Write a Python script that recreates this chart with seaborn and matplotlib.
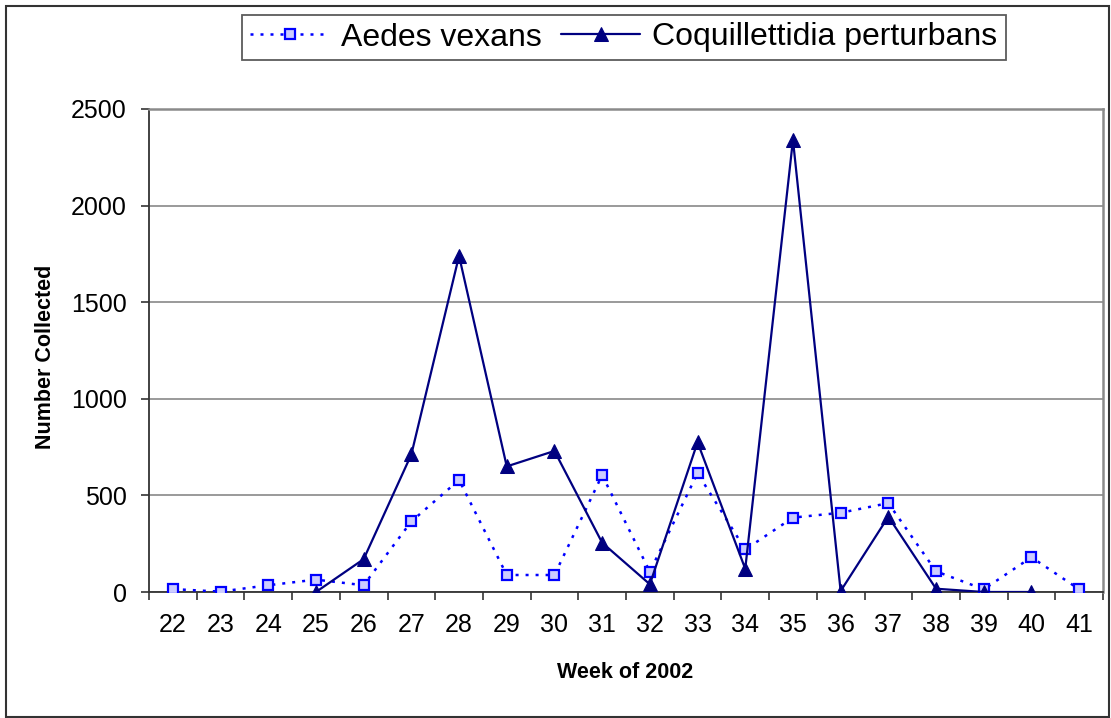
import numpy as np
import pandas as pd
import matplotlib
matplotlib.use("Agg")
import matplotlib.pyplot as plt
import seaborn as sns
from matplotlib.patches import Rectangle

# semanas y conteos
weeks = [22, 23, 24, 25, 26, 27, 28, 29, 30, 31, 32, 33, 34, 35, 36, 37, 38, 39, 40, 41]
aedes = [15, 2, 35, 64, 35, 365, 580, 88, 88, 605, 105, 615, 220, 385, 410, 460, 107, 14, 180, 14]
coq_weeks = [25, 26, 27, 28, 29, 30, 31, 32, 33, 34, 35, 36, 37, 38, 39, 40]
coq = [0, 170, 712, 1740, 650, 730, 255, 40, 775, 120, 2340, 5, 390, 17, 0, 0]

sns.set_style("white")
plt.rcParams['font.family'] = ['Liberation Sans', 'DejaVu Sans']
plt.rcParams['text.color'] = 'black'
plt.rcParams['xtick.color'] = 'black'
plt.rcParams['ytick.color'] = 'black'

df_a = pd.DataFrame({'pos': [weeks.index(w) for w in weeks], 'n': aedes})
df_c = pd.DataFrame({'pos': [weeks.index(w) for w in coq_weeks], 'n': coq})

fig = plt.figure(figsize=(11.11, 7.18), dpi=100)
ax = fig.add_axes([149 / 1111, 1 - 592 / 718, (1103 - 149) / 1111, (592 - 109) / 718])

sns.lineplot(data=df_a, x='pos', y='n', ax=ax, color='#0000FF', linestyle=(0, (1.2, 2.8)),
             linewidth=1.8, marker='s', markersize=7.5, markerfacecolor='#CCCCFF',
             markeredgecolor='#0000FF', markeredgewidth=1.6, label='Aedes vexans', zorder=3)
sns.lineplot(data=df_c, x='pos', y='n', ax=ax, color='#000080', linestyle='-',
             linewidth=1.6, marker='^', markersize=10, markerfacecolor='#000080',
             markeredgecolor='#000080', label='Coquillettidia perturbans', zorder=4)

ax.set_xlim(-0.5, len(weeks) - 0.5)
ax.set_ylim(0, 2500)
ax.set_yticks([0, 500, 1000, 1500, 2000, 2500])
ax.yaxis.grid(True, color='#7f7f7f', linewidth=1.1)
ax.set_axisbelow(True)

# ticks entre categorias, etiquetas centradas
ax.set_xticks(np.arange(-0.5, len(weeks), 1.0))
ax.set_xticklabels([])
ax.set_xticks(np.arange(len(weeks)), minor=True)
ax.set_xticklabels([str(w) for w in weeks], minor=True, fontsize=18)
ax.tick_params(axis='x', which='major', direction='out', length=6, width=1.2, color='#333333', bottom=True)
ax.tick_params(axis='x', which='minor', length=0, pad=15)
ax.tick_params(axis='y', direction='out', length=6, width=1.2, color='#333333', left=True,
               labelsize=18, pad=10)

for s in ['left', 'bottom']:
    ax.spines[s].set_color('#333333')
    ax.spines[s].set_linewidth(1.3)
for s in ['top', 'right']:
    ax.spines[s].set_color('#8a8a8a')
    ax.spines[s].set_linewidth(1.8)

ax.set_xlabel('')
ax.set_ylabel('')
fig.text(625 / 1111, 1 - 672 / 718, 'Week of 2002', fontsize=15.5, fontweight='bold',
         ha='center', va='center')
fig.text(46 / 1111, 1 - 357 / 718, 'Number Collected', fontsize=15.5, fontweight='bold',
         ha='center', va='center', rotation=90)

ax.get_legend().remove()
h, l = ax.get_legend_handles_labels()
leg = fig.legend(h, l, loc='center', bbox_to_anchor=(624 / 1111, 1 - 37.5 / 718), ncol=2,
                 fontsize=23, frameon=True, fancybox=False, handlelength=2.45,
                 handletextpad=0.4, columnspacing=0.6, borderpad=0.25, borderaxespad=0)
leg.get_frame().set_edgecolor('#333333')
leg.get_frame().set_linewidth(1.3)

# marco exterior de la figura
fig.patches.append(Rectangle((6 / 1111, 1 / 718), 1103 / 1111, 711 / 718, transform=fig.transFigure,
                             fill=False, edgecolor='#333333', linewidth=1.5))

fig.savefig('out.png', dpi=100)
